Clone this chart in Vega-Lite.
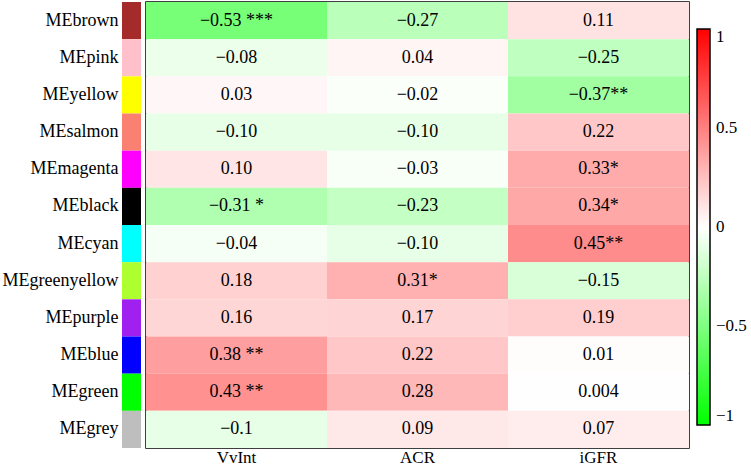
{
  "$schema": "https://vega.github.io/schema/vega-lite/v6.json",
  "padding": {"left": 2, "top": 1, "right": 0, "bottom": 0},
  "config": {
    "font": "Liberation Serif",
    "view": {"stroke": null},
    "concat": {"spacing": 4}
  },
  "datasets": {
    "cells": [
      {"module": "MEbrown", "mcolor": "#a52a2a", "trait": "VvInt", "r": -0.53, "label": "−0.53 ***"},
      {"module": "MEbrown", "mcolor": "#a52a2a", "trait": "ACR", "r": -0.27, "label": "−0.27"},
      {"module": "MEbrown", "mcolor": "#a52a2a", "trait": "iGFR", "r": 0.11, "label": "0.11"},
      {"module": "MEpink", "mcolor": "#ffc0cb", "trait": "VvInt", "r": -0.08, "label": "−0.08"},
      {"module": "MEpink", "mcolor": "#ffc0cb", "trait": "ACR", "r": 0.04, "label": "0.04"},
      {"module": "MEpink", "mcolor": "#ffc0cb", "trait": "iGFR", "r": -0.25, "label": "−0.25"},
      {"module": "MEyellow", "mcolor": "#ffff00", "trait": "VvInt", "r": 0.03, "label": "0.03"},
      {"module": "MEyellow", "mcolor": "#ffff00", "trait": "ACR", "r": -0.02, "label": "−0.02"},
      {"module": "MEyellow", "mcolor": "#ffff00", "trait": "iGFR", "r": -0.37, "label": "−0.37**"},
      {"module": "MEsalmon", "mcolor": "#fa8072", "trait": "VvInt", "r": -0.10, "label": "−0.10"},
      {"module": "MEsalmon", "mcolor": "#fa8072", "trait": "ACR", "r": -0.10, "label": "−0.10"},
      {"module": "MEsalmon", "mcolor": "#fa8072", "trait": "iGFR", "r": 0.22, "label": "0.22"},
      {"module": "MEmagenta", "mcolor": "#ff00ff", "trait": "VvInt", "r": 0.10, "label": "0.10"},
      {"module": "MEmagenta", "mcolor": "#ff00ff", "trait": "ACR", "r": -0.03, "label": "−0.03"},
      {"module": "MEmagenta", "mcolor": "#ff00ff", "trait": "iGFR", "r": 0.33, "label": "0.33*"},
      {"module": "MEblack", "mcolor": "#000000", "trait": "VvInt", "r": -0.31, "label": "−0.31 *"},
      {"module": "MEblack", "mcolor": "#000000", "trait": "ACR", "r": -0.23, "label": "−0.23"},
      {"module": "MEblack", "mcolor": "#000000", "trait": "iGFR", "r": 0.34, "label": "0.34*"},
      {"module": "MEcyan", "mcolor": "#00ffff", "trait": "VvInt", "r": -0.04, "label": "−0.04"},
      {"module": "MEcyan", "mcolor": "#00ffff", "trait": "ACR", "r": -0.10, "label": "−0.10"},
      {"module": "MEcyan", "mcolor": "#00ffff", "trait": "iGFR", "r": 0.45, "label": "0.45**"},
      {"module": "MEgreenyellow", "mcolor": "#adff2f", "trait": "VvInt", "r": 0.18, "label": "0.18"},
      {"module": "MEgreenyellow", "mcolor": "#adff2f", "trait": "ACR", "r": 0.31, "label": "0.31*"},
      {"module": "MEgreenyellow", "mcolor": "#adff2f", "trait": "iGFR", "r": -0.15, "label": "−0.15"},
      {"module": "MEpurple", "mcolor": "#a020f0", "trait": "VvInt", "r": 0.16, "label": "0.16"},
      {"module": "MEpurple", "mcolor": "#a020f0", "trait": "ACR", "r": 0.17, "label": "0.17"},
      {"module": "MEpurple", "mcolor": "#a020f0", "trait": "iGFR", "r": 0.19, "label": "0.19"},
      {"module": "MEblue", "mcolor": "#0000ff", "trait": "VvInt", "r": 0.38, "label": "0.38 **"},
      {"module": "MEblue", "mcolor": "#0000ff", "trait": "ACR", "r": 0.22, "label": "0.22"},
      {"module": "MEblue", "mcolor": "#0000ff", "trait": "iGFR", "r": 0.01, "label": "0.01"},
      {"module": "MEgreen", "mcolor": "#00ff00", "trait": "VvInt", "r": 0.43, "label": "0.43 **"},
      {"module": "MEgreen", "mcolor": "#00ff00", "trait": "ACR", "r": 0.28, "label": "0.28"},
      {"module": "MEgreen", "mcolor": "#00ff00", "trait": "iGFR", "r": 0.004, "label": "0.004"},
      {"module": "MEgrey", "mcolor": "#bebebe", "trait": "VvInt", "r": -0.1, "label": "−0.1"},
      {"module": "MEgrey", "mcolor": "#bebebe", "trait": "ACR", "r": 0.09, "label": "0.09"},
      {"module": "MEgrey", "mcolor": "#bebebe", "trait": "iGFR", "r": 0.07, "label": "0.07"}
    ]
  },
  "data": {"name": "cells"},
  "hconcat": [
    {
      "width": 19,
      "height": 446,
      "transform": [{"filter": "datum.trait == 'VvInt'"}],
      "mark": {"type": "rect"},
      "encoding": {
        "y": {
          "field": "module", "type": "nominal", "sort": null,
          "scale": {"paddingInner": 0.0},
          "axis": {"title": null, "domain": false, "ticks": false, "labelFontSize": 18, "labelColor": "black", "labelPadding": 4, "labelFont": "Liberation Serif"}
        },
        "fill": {"field": "mcolor", "type": "nominal", "scale": null}
      }
    },
    {
      "width": 543,
      "height": 446,
      "view": {"stroke": "black", "strokeWidth": 1.5},
      "encoding": {
        "x": {
          "field": "trait", "type": "nominal", "sort": ["VvInt", "ACR", "iGFR"],
          "axis": {"title": null, "domain": false, "ticks": false, "labelAngle": 0, "labelFontSize": 17, "labelColor": "black", "labelPadding": 1, "labelFont": "Liberation Serif"}
        },
        "y": {"field": "module", "type": "nominal", "sort": null, "axis": null}
      },
      "layer": [
        {
          "mark": {"type": "rect"},
          "encoding": {
            "color": {
              "field": "r", "type": "quantitative",
              "scale": {"type": "linear", "domain": [-1, 0, 1], "range": ["#00ff00", "#ffffff", "#ff0000"], "interpolate": "rgb"},
              "legend": {
                "title": null,
                "orient": "none",
                "legendX": 575,
                "legendY": 27,
                "direction": "vertical",
                "gradientLength": 396,
                "gradientThickness": 13,
                "gradientStrokeColor": "black",
                "gradientStrokeWidth": 1.5,
                "values": [-1, -0.5, 0, 0.5, 1],
                "format": "~g",
                "labelFontSize": 17,
                "labelFont": "Liberation Serif",
                "labelColor": "black",
                "labelOverlap": false,
                "labelOffset": 6,
                "labelExpr": "replace(datum.label, '-', '−')"
              }
            }
          }
        },
        {
          "mark": {"type": "text", "fontSize": 18, "font": "Liberation Serif", "color": "black"},
          "encoding": {"text": {"field": "label", "type": "nominal"}}
        }
      ]
    }
  ]
}
